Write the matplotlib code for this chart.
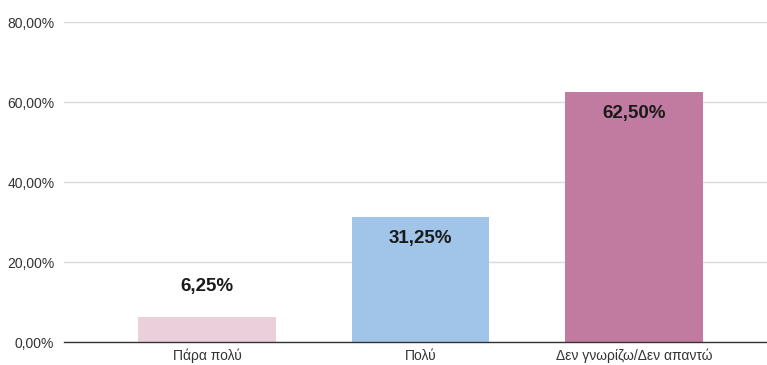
import matplotlib
matplotlib.use("Agg")
import matplotlib.pyplot as plt
from matplotlib.ticker import FuncFormatter

categories = ["Πάρα πολύ", "Πολύ", "Δεν γνωρίζω/Δεν απαντώ"]
values = [6.25, 31.25, 62.50]
colors = ["#EBD0DB", "#A0C5E8", "#C27BA0"]
yticks = [0, 20, 40, 60, 80]

plt.rcParams["font.family"] = ["Liberation Sans", "DejaVu Sans"]

fig = plt.figure(figsize=(7.67, 3.65), dpi=100)
ax = fig.add_axes([64 / 767, 1 - 342 / 365, 1 - 64 / 767, (342 - 22) / 365])

x = range(len(categories))
ax.bar(x, values, width=0.646, color=colors, zorder=3)

def pct(v, _=None):
    return f"{v:.2f}".replace(".", ",") + "%"

for i, v in enumerate(values):
    if v > 20:
        ax.annotate(pct(v), (i, v), xytext=(0, -9), textcoords="offset points",
                    ha="center", va="top", fontsize=13.5, fontweight="bold",
                    color="#1a1a1a", zorder=4)
    else:
        ax.annotate(pct(v), (i, v), xytext=(0, 16), textcoords="offset points",
                    ha="center", va="bottom", fontsize=13.5, fontweight="bold",
                    color="#1a1a1a", zorder=4)

ax.set_xlim(-0.67, 2.623)
ax.set_ylim(0, 80)
ax.set_yticks(yticks)
ax.yaxis.set_major_formatter(FuncFormatter(pct))
ax.set_xticks(list(x))
ax.set_xticklabels(categories)
ax.tick_params(axis="both", length=0, labelsize=10, colors="#333333")
ax.tick_params(axis="y", pad=7)
ax.tick_params(axis="x", pad=5)
ax.grid(axis="y", color="#d9d9d9", linewidth=1, zorder=0)
for s in ["top", "right", "left"]:
    ax.spines[s].set_visible(False)
ax.spines["bottom"].set_color("#333333")
ax.spines["bottom"].set_linewidth(1)
ax.spines["bottom"].set_zorder(5)

fig.savefig("out.png", dpi=100)
